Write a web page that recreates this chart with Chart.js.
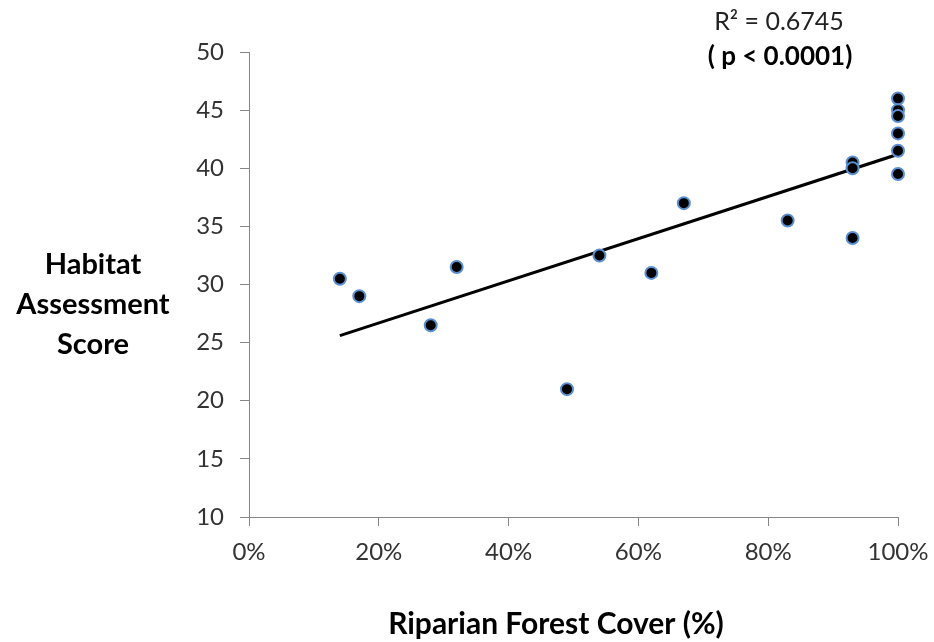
<!DOCTYPE html>
<html>
<head>
<meta charset="utf-8">
<script src="https://cdn.jsdelivr.net/npm/chart.js@4"></script>
<style>
  html, body { margin: 0; padding: 0; background: #fff; }
  #wrap { width: 934px; height: 642px; position: relative; }
</style>
</head>
<body>
<div id="wrap"><canvas id="habitatChart" width="934" height="642"></canvas></div>
<script>
// forest cover (%) and habitat score
var forestCover = [14, 17, 28, 32, 49, 54, 62, 67, 83, 93, 93, 93, 100, 100, 100, 100, 100, 100];
var habitatScore = [30.5, 29, 26.5, 31.5, 21, 32.5, 31, 37, 35.5, 40.5, 40, 34, 46, 45, 44.5, 43, 41.5, 39.5];

// trend line ends as drawn
var trendX = [14, 100];
var trendY = [25.6, 41.2];

var xTicks = [0, 20, 40, 60, 80, 100];
var yTicks = [10, 15, 20, 25, 30, 35, 40, 45, 50];

var yTitleLines = ['Habitat', 'Assessment', 'Score'];
var xTitle = 'Riparian Forest Cover (%)';
var rSquared = 'R\u00B2 = 0.6745';
var pValue = '( p < 0.0001)';

var FONT = 'Lato, "Liberation Sans", sans-serif';

var points = forestCover.map(function (x, i) {
    return { x: x, y: habitatScore[i] };
});
var trend = trendX.map(function (x, i) {
    return { x: x, y: trendY[i] };
});

// titles and the R2 note are drawn by hand
var textPlugin = {
    id: 'textPlugin',
    afterDraw: function (chart) {
        var ctx = chart.ctx;
        ctx.save();
        ctx.fillStyle = '#000';
        ctx.textAlign = 'center';
        ctx.textBaseline = 'middle';

        ctx.font = 'bold 29px ' + FONT;
        yTitleLines.forEach(function (line, i) {
            ctx.fillText(line, 93, 265 + i * 40);
        });

        ctx.font = 'bold 30px ' + FONT;
        ctx.fillText(xTitle, 556, 624);

        ctx.font = '25px ' + FONT;
        ctx.fillStyle = '#222';
        ctx.fillText(rSquared, 779, 22);
        ctx.font = 'bold 26px ' + FONT;
        ctx.fillStyle = '#000';
        ctx.fillText(pValue, 780, 57);
        ctx.restore();
    }
};

var ctx = document.getElementById('habitatChart').getContext('2d');
var myChart = new Chart(ctx, {
    type: 'scatter',
    data: {
        datasets: [{
            label: 'Trend',
            type: 'line',
            data: trend,
            borderColor: '#000',
            borderWidth: 3,
            pointRadius: 0,
            fill: false,
            order: 2
        }, {
            label: 'Sites',
            data: points,
            backgroundColor: '#000',
            borderColor: '#5b8fd0',
            borderWidth: 2,
            pointRadius: 6,
            clip: false,
            order: 1
        }]
    },
    options: {
        responsive: false,
        animation: false,
        devicePixelRatio: 1,
        layout: { padding: { left: 189, right: 36, top: 52, bottom: 0 } },
        plugins: {
            legend: { display: false },
            tooltip: { enabled: false }
        },
        scales: {
            x: {
                type: 'linear',
                min: 0,
                max: 100,
                afterBuildTicks: function (axis) {
                    axis.ticks = xTicks.map(function (v) { return { value: v }; });
                },
                afterFit: function (axis) {
                    axis.height = 125;
                    axis.paddingLeft = 0;
                    axis.paddingRight = 0;
                },
                ticks: {
                    padding: 12,
                    color: '#333',
                    font: { family: FONT, size: 24 },
                    callback: function (v) { return v + '%'; }
                },
                grid: { drawOnChartArea: false, tickLength: 9, color: '#868686' },
                border: { color: '#868686', width: 1 }
            },
            y: {
                min: 10,
                max: 50,
                afterBuildTicks: function (axis) {
                    axis.ticks = yTicks.map(function (v) { return { value: v }; });
                },
                afterFit: function (axis) {
                    axis.width = 60;
                    axis.paddingTop = 0;
                    axis.paddingBottom = 0;
                },
                ticks: {
                    padding: 16,
                    color: '#333',
                    font: { family: FONT, size: 24 }
                },
                grid: { drawOnChartArea: false, tickLength: 9, color: '#868686' },
                border: { color: '#868686', width: 1 }
            }
        }
    },
    plugins: [textPlugin]
});
</script>
</body>
</html>
